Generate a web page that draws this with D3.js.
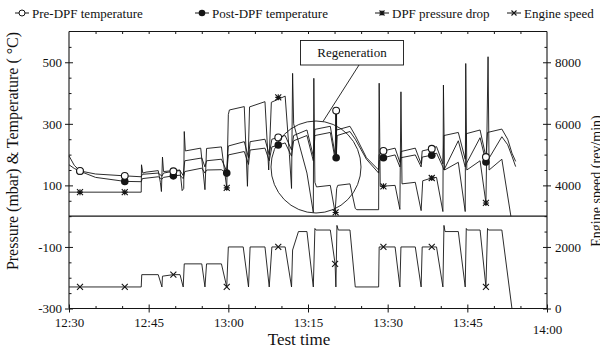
<!DOCTYPE html>
<html><head><meta charset="utf-8">
<script src="https://cdn.jsdelivr.net/npm/d3@7"></script>
<style>
body{margin:0;background:#fff}
svg{display:block}
text{font-family:"Liberation Serif","Times New Roman",serif;fill:#111}
</style>
</head><body>
<svg id="chart" width="600" height="351"></svg>
<script>
// ---- data (time in minutes after 12:30) ----
const xTickMinutes = [0, 15, 30, 45, 60, 75, 90];
const xTickLabels = ["12:30", "12:45", "13:00", "13:15", "13:30", "13:45", "14:00"];
const leftTicks = [-300, -100, 100, 300, 500];
const rightTicks = [0, 2000, 4000, 6000, 8000];
const seriesNames = ["Pre-DPF temperature", "Post-DPF temperature", "DPF pressure drop", "Engine speed"];

const preTemp = [[0,196],[1,165],[2.07,147],[5,137],[10.5,131],[13.6,128],[13.8,136],[16.8,140],[17.5,130],[17.8,140],[19.65,146],[20.9,148],[21.5,132],[21.8,180],[25,189],[25.6,160],[25.9,180],[28.7,185],[29.7,146],[30.0,228],[33,242],[33.8,190],[34.1,242],[36.9,250],[37.7,200],[38.2,250],[39.4,256],[40.7,262],[41.9,215],[42.3,262],[44.8,280],[46.0,195],[46.3,282],[49.2,292],[50.1,200],[50.3,343],[50.4,280],[52.9,292],[53.9,262],[56,190],[58.3,150],[58.4,200],[59.2,212],[61.4,221],[62.3,175],[62.5,210],[65.2,221],[66.3,170],[66.5,212],[68.3,219],[69.2,226],[70.4,170],[70.6,262],[73.3,272],[74.6,185],[74.8,268],[77.4,280],[78.5,192],[78.8,272],[81.5,283],[82.6,250],[83.4,205],[84.1,178]];
const postTemp = [[0,167],[1,155],[2.07,146],[5,126],[10.5,113],[13.6,112],[13.8,122],[16.8,128],[17.5,120],[17.8,126],[19.65,131],[20.9,133],[21.5,122],[21.8,145],[25,156],[25.6,140],[25.9,150],[28.7,151],[29.7,140],[30.0,199],[33,210],[33.8,168],[34.1,215],[36.9,221],[37.7,180],[38.2,225],[39.4,231],[40.7,238],[41.9,195],[42.3,245],[44.8,262],[46.0,180],[46.3,262],[49.2,272],[50.1,185],[50.3,190],[50.5,262],[52.9,275],[53.9,250],[56,185],[58.3,140],[58.4,180],[59.2,190],[61.4,199],[62.3,160],[62.5,190],[65.2,199],[66.3,160],[66.5,192],[68.3,198],[69.2,205],[70.4,160],[70.6,150],[73.3,245],[74.6,160],[74.8,170],[77.4,255],[78.5,176],[78.8,180],[81.5,258],[82.6,232],[83.4,195],[84.1,161]];
const pressureDrop = [[0,78],[13.6,78],[13.65,167],[13.9,140],[14.5,143],[16.8,148],[17.2,110],[17.4,80],[17.6,192],[17.8,145],[20.9,150],[21.3,83],[21.6,90],[21.7,275],[21.9,212],[24.8,221],[25.6,86],[25.9,220],[28.7,225],[29.7,92],[30.0,330],[30.2,345],[33.0,356],[33.6,97],[34.0,355],[36.9,372],[37.6,150],[38.1,370],[40.7,390],[41.5,200],[41.9,90],[42.1,464],[42.3,300],[44.8,140],[46.0,12],[46.1,448],[46.3,110],[46.6,95],[49.2,100],[50.1,12],[50.4,90],[50.6,100],[52.9,105],[53.9,25],[54.2,21],[58.3,21],[58.4,432],[58.6,97],[61.4,100],[62.3,22],[62.5,404],[62.7,105],[65.2,110],[66.3,18],[66.6,115],[68.3,124],[69.2,126],[70.4,15],[70.5,426],[70.7,150],[73.3,175],[74.6,15],[74.7,496],[74.9,150],[77.4,180],[78.5,43],[78.9,518],[79.1,150],[81.5,185],[83.2,0]];
const engineSpeed = [[0,700],[13.6,700],[13.7,1100],[16.8,1100],[17.5,700],[17.6,1050],[19.65,1100],[20.9,1100],[21.5,700],[21.7,1450],[25.0,1450],[25.6,700],[25.9,1450],[28.7,1450],[29.7,700],[30.0,2000],[32.8,2000],[33.8,700],[34.1,2000],[36.9,2000],[37.7,700],[38.2,2000],[40.7,2000],[41.9,700],[42.1,1900],[43.2,2500],[44.8,2500],[46.0,700],[46.3,2600],[46.5,2550],[49.2,2550],[50.1,1450],[50.25,700],[50.45,2700],[50.7,2550],[52.9,2550],[53.9,700],[58.3,700],[58.4,2000],[61.4,2000],[62.3,700],[62.5,2000],[65.2,2000],[66.3,700],[66.5,2000],[69.2,2000],[70.4,700],[70.6,2700],[70.8,2500],[73.3,2500],[74.6,700],[74.8,2600],[75.0,2550],[77.4,2550],[78.5,700],[78.8,2600],[79.0,2550],[81.5,2550],[83.4,0]];
const preMarks = [[2.07,147],[10.5,131],[19.65,146],[39.4,256],[50.3,343],[59.2,212],[68.3,219],[78.5,192]];
const postMarks = [[2.07,146],[10.5,113],[19.65,131],[29.7,140],[39.4,231],[50.3,190],[59.2,190],[68.3,198],[78.5,176]];
const pressureMarks = [[2.07,78],[10.5,78],[29.7,92],[39.4,386],[50.2,12],[59.2,97],[68.3,124],[78.5,43]];
const speedMarks = [[2.07,700],[10.5,700],[19.65,1100],[29.7,700],[39.4,2000],[50.1,1450],[59.2,2000],[68.3,2000],[78.5,700]];

// ---- scales ----
const svg = d3.select("#chart");
const x = d3.scaleLinear().domain([0, 90]).range([69, 547]);
const yL = d3.scaleLinear().domain([-300, 600]).range([308.5, 31.5]);
const yR = d3.scaleLinear().domain([0, 9000]).range([308.5, 31.5]);
const ink = "#151515";

function styleAxis(g){ g.selectAll("path.domain").remove(); g.selectAll("line").attr("stroke", ink).attr("stroke-width",1); g.selectAll("text").style("font-size","13px").attr("fill",ink); }

// left axis
svg.append("g").attr("transform","translate(69,0)")
  .call(d3.axisLeft(yL).tickValues(leftTicks).tickSize(4).tickPadding(3).tickFormat(d=>String(d)))
  .call(styleAxis);
svg.append("g").attr("transform","translate(69,0)")
  .call(d3.axisRight(yL).tickValues(leftTicks).tickSize(4).tickFormat(""))
  .call(styleAxis);
svg.append("g").attr("transform","translate(69,0)")
  .call(d3.axisRight(yL).tickValues(d3.range(-250,600,50).filter(v=>!leftTicks.includes(v))).tickSize(2.5).tickFormat(""))
  .call(styleAxis);
// right axis
svg.append("g").attr("transform","translate(547,0)")
  .call(d3.axisRight(yR).tickValues(rightTicks).tickSize(4).tickPadding(4).tickFormat(d=>String(d)))
  .call(styleAxis);
svg.append("g").attr("transform","translate(547,0)")
  .call(d3.axisLeft(yR).tickValues(rightTicks).tickSize(4).tickFormat(""))
  .call(styleAxis);
svg.append("g").attr("transform","translate(547,0)")
  .call(d3.axisLeft(yR).tickValues(d3.range(500,9000,500).filter(v=>!rightTicks.includes(v))).tickSize(2.5).tickFormat(""))
  .call(styleAxis);
// bottom axis
const bx = svg.append("g").attr("transform","translate(0,308.5)")
  .call(d3.axisBottom(x).tickValues(xTickMinutes).tickSize(4).tickPadding(5).tickFormat((d,i)=>xTickLabels[i]))
  .call(styleAxis);
bx.selectAll("text").filter(d=>d===90).attr("dy","1.3em");
svg.append("g").attr("transform","translate(0,308.5)")
  .call(d3.axisTop(x).tickValues(xTickMinutes).tickSize(4).tickFormat(""))
  .call(styleAxis);
svg.append("g").attr("transform","translate(0,308.5)")
  .call(d3.axisTop(x).tickValues(d3.range(5,90,5).filter(v=>!xTickMinutes.includes(v))).tickSize(2.5).tickFormat(""))
  .call(styleAxis);
svg.append("g").attr("transform","translate(0,31.5)")
  .call(d3.axisBottom(x).tickValues(d3.range(5,90,5)).tickSize(2.5).tickFormat(""))
  .call(styleAxis);

// frame lines
const frame = svg.append("g").attr("stroke",ink).attr("stroke-width",1.1).attr("fill","none");
frame.append("line").attr("x1",x(0)).attr("x2",x(90)).attr("y1",yL(600)).attr("y2",yL(600));
frame.append("line").attr("x1",x(0)).attr("x2",x(90)).attr("y1",yL(-300)).attr("y2",yL(-300));
frame.append("line").attr("x1",x(0)).attr("x2",x(0)).attr("y1",yL(600)).attr("y2",yL(-300));
frame.append("line").attr("x1",x(90)).attr("x2",x(90)).attr("y1",yL(600)).attr("y2",yL(-300));
frame.append("line").attr("x1",x(0)).attr("x2",x(90)).attr("y1",yL(0)).attr("y2",yL(0));

// series lines
const lineL = d3.line().x(d=>x(d[0])).y(d=>yL(d[1]));
const lineR = d3.line().x(d=>x(d[0])).y(d=>yR(d[1]));
const lines = svg.append("g").attr("fill","none").attr("stroke",ink).attr("stroke-width",0.9).attr("stroke-linejoin","round");
lines.append("path").attr("d", lineL(pressureDrop));
lines.append("path").attr("d", lineL(postTemp));
lines.append("path").attr("d", lineL(preTemp));
lines.append("path").attr("d", lineR(engineSpeed));

// marker shapes
function asterisk(g, cx, cy, r){
  g.append("path").attr("d",`M${cx-r},${cy-r}L${cx+r},${cy+r}M${cx-r},${cy+r}L${cx+r},${cy-r}M${cx},${cy-r}L${cx},${cy+r}M${cx-r},${cy}L${cx+r},${cy}`)
   .attr("stroke",ink).attr("stroke-width",1.1).attr("fill","none");
}
function cross(g, cx, cy, r){
  g.append("path").attr("d",`M${cx-r},${cy-r}L${cx+r},${cy+r}M${cx-r},${cy+r}L${cx+r},${cy-r}`)
   .attr("stroke",ink).attr("stroke-width",1.1).attr("fill","none");
}
const mk = svg.append("g");
pressureMarks.forEach(d=>asterisk(mk, x(d[0]), yL(d[1]), 3));
speedMarks.forEach(d=>cross(mk, x(d[0]), yR(d[1]), 3));
// stem between the two temperature markers at the regeneration point
mk.append("line").attr("x1",x(50.3)).attr("x2",x(50.3)).attr("y1",yL(343)).attr("y2",yL(190)).attr("stroke",ink).attr("stroke-width",1.8);
postMarks.forEach(d=>mk.append("circle").attr("cx",x(d[0])).attr("cy",yL(d[1])).attr("r",3.8).attr("fill",ink));
preMarks.forEach(d=>mk.append("circle").attr("cx",x(d[0])).attr("cy",yL(d[1])).attr("r",3.4).attr("fill","#fff").attr("stroke",ink).attr("stroke-width",1.1));

// regeneration annotation
const ann = svg.append("g").attr("fill","none").attr("stroke",ink).attr("stroke-width",0.9);
ann.append("ellipse").attr("cx",316).attr("cy",167).attr("rx",45).attr("ry",46);
ann.append("line").attr("x1",359).attr("y1",65).attr("x2",323).attr("y2",121.5);
ann.append("rect").attr("x",300.5).attr("y",40.5).attr("width",103).attr("height",24.5).attr("fill","#fff");
svg.append("text").attr("x",352).attr("y",57).attr("text-anchor","middle").style("font-size","13px").text("Regeneration");

// axis titles
svg.append("text").attr("transform","translate(18,151) rotate(-90)").attr("text-anchor","middle").style("font-size","16px").text("Pressure (mbar) & Temperature ( °C)");
svg.append("text").attr("transform","translate(601,181) rotate(-90)").attr("text-anchor","middle").style("font-size","14px").text("Engine speed (rev/min)");
svg.append("text").attr("x",299).attr("y",345).attr("text-anchor","middle").style("font-size","17px").text("Test time");

// legend
const legX = [22, 202, 382, 514];
const leg = svg.append("g");
seriesNames.forEach((name,i)=>{
  const cx = legX[i], cy = 13;
  leg.append("line").attr("x1",cx-7).attr("x2",cx+7).attr("y1",cy).attr("y2",cy).attr("stroke",ink).attr("stroke-width",1);
  if(i===0) leg.append("circle").attr("cx",cx).attr("cy",cy).attr("r",3).attr("fill","#fff").attr("stroke",ink);
  if(i===1) leg.append("circle").attr("cx",cx).attr("cy",cy).attr("r",3.3).attr("fill",ink);
  if(i===2) asterisk(leg,cx,cy,2.5);
  if(i===3) cross(leg,cx,cy,2.5);
  leg.append("text").attr("x",cx+10).attr("y",cy+4.5).style("font-size","13px").text(name);
});
</script>
</body></html>
